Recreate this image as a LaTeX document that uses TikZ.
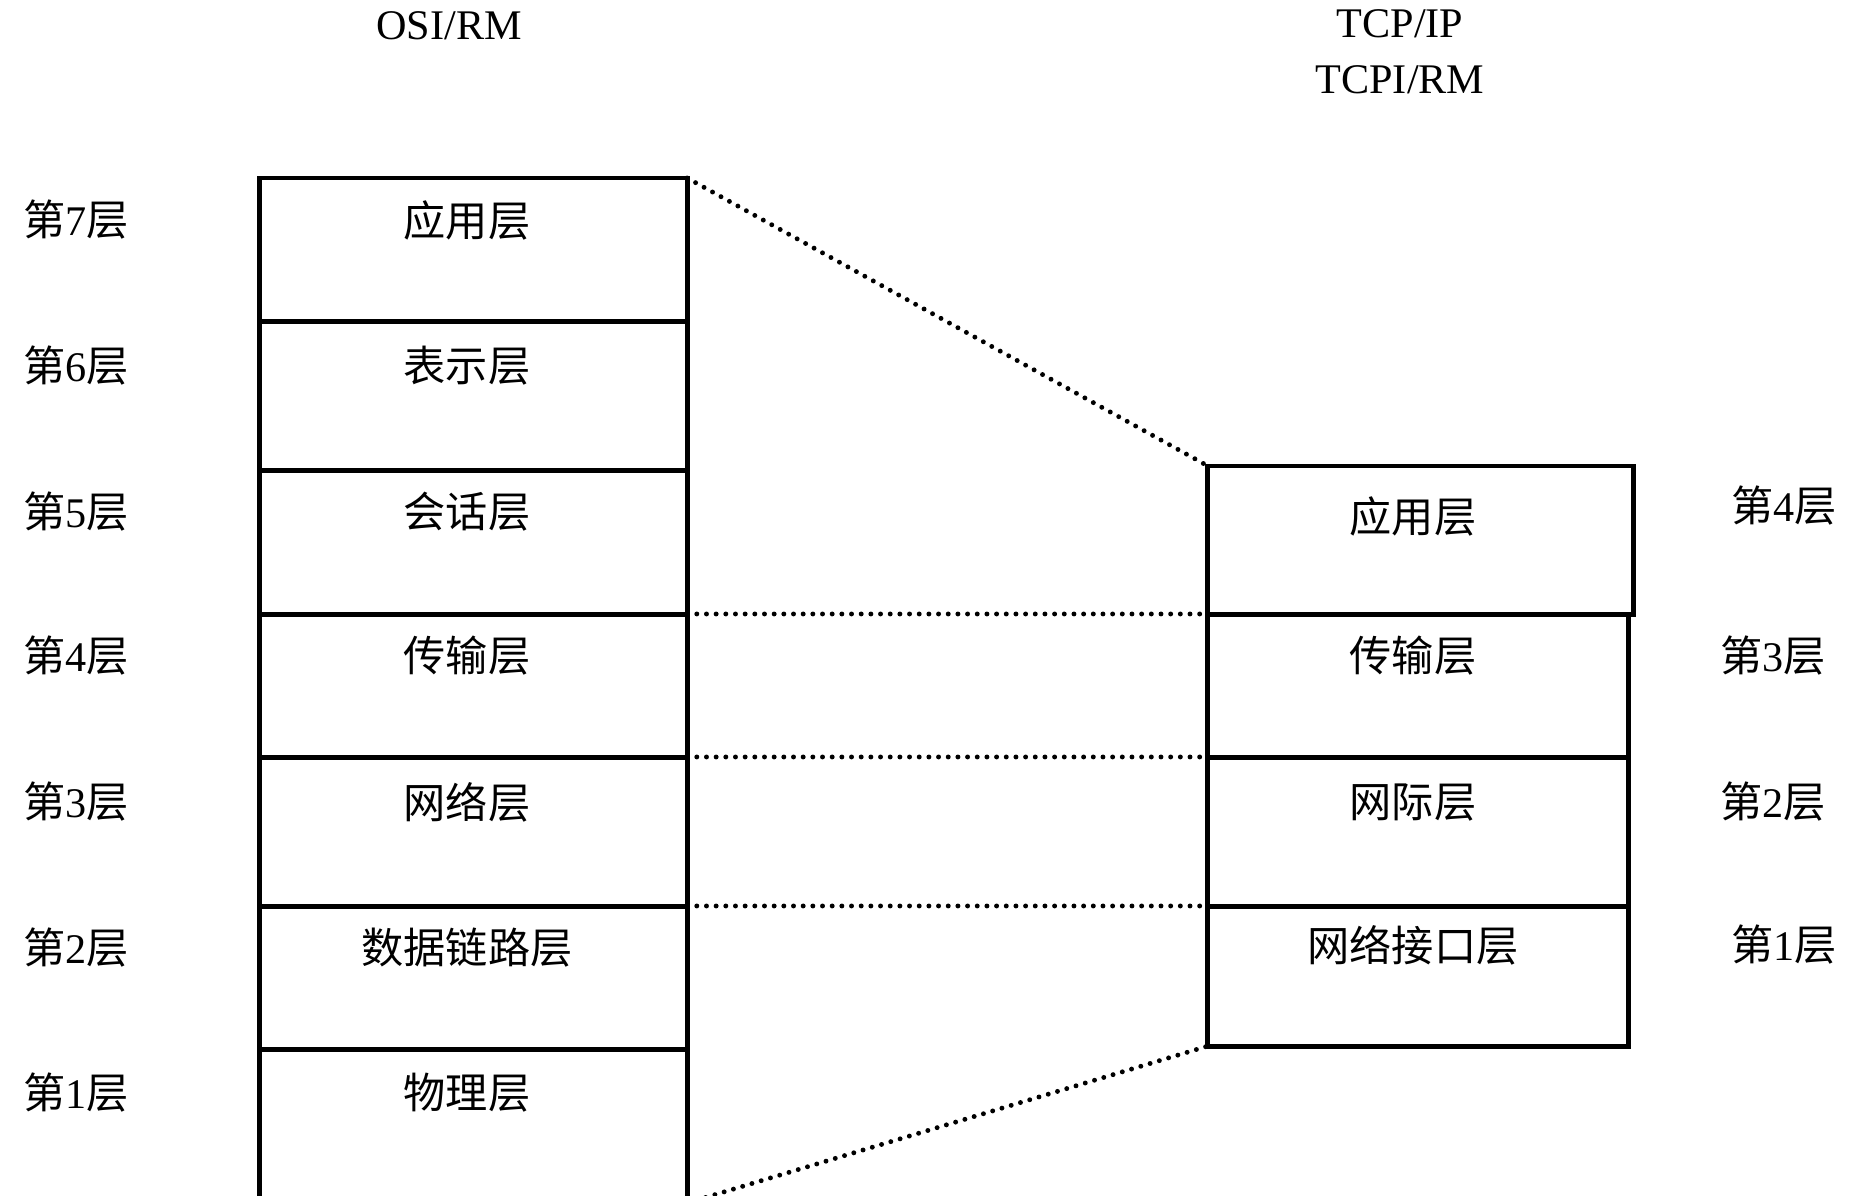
\documentclass[tikz,border=0pt]{standalone}
\usepackage{fontspec}
\setmainfont{Liberation Serif}
\newfontfamily\cjk{Noto Sans CJK SC}
\usepackage{tikz}
\newcommand\ceng[1]{{\cjk 第}#1{\cjk 层}}
\tikzset{
  layer/.style={draw, line width=1.4pt, inner sep=0pt, outer sep=0pt},
  dotline/.style={line width=1.4pt, line cap=round, dash pattern=on 0pt off 2.75pt},
  every node/.append style={font=\fontsize{12}{14}\selectfont}
}

\begin{document}
\begin{tikzpicture}[x=0.01cm, y=-0.01cm]
\useasboundingbox (0,0) rectangle (1853,1196);

% OSI/RM
\node (osi) at (449,26) {OSI/RM};
\node[layer, minimum width=4.27cm, minimum height=1.43cm] (o7) at (473.5,249.5) {};
\node[layer, minimum width=4.27cm, minimum height=1.49cm] (o6) at (473.5,395.5) {};
\node[layer, minimum width=4.27cm, minimum height=1.44cm] (o5) at (473.5,542) {};
\node[layer, minimum width=4.27cm, minimum height=1.43cm] (o4) at (473.5,685.5) {};
\node[layer, minimum width=4.27cm, minimum height=1.49cm] (o3) at (473.5,831.5) {};
\node[layer, minimum width=4.27cm, minimum height=1.43cm] (o2) at (473.5,977.5) {};
\node[layer, minimum width=4.27cm, minimum height=1.54cm] (o1) at (473.5,1126) {};

\node (o7t) at (467,220) {\cjk 应用层};
\node (o6t) at (467,366) {\cjk 表示层};
\node (o5t) at (467,512) {\cjk 会话层};
\node (o4t) at (467,656) {\cjk 传输层};
\node (o3t) at (467,802) {\cjk 网络层};
\node (o2t) at (467,948) {\cjk 数据链路层};
\node (o1t) at (467,1093) {\cjk 物理层};

\node (l7) at (76,220) {\ceng{7}};
\node (l6) at (76,366) {\ceng{6}};
\node (l5) at (76,512) {\ceng{5}};
\node (l4) at (76,656) {\ceng{4}};
\node (l3) at (76,802) {\ceng{3}};
\node (l2) at (76,948) {\ceng{2}};
\node (l1) at (76,1093) {\ceng{1}};

% TCP/IP
\node[align=center] (tcp) at (1400,52) {TCP/IP\\[2pt]TCPI/RM};
\node[layer, minimum width=4.25cm, minimum height=1.48cm] (t4) at (1420.5,540) {};
\node[layer, minimum width=4.20cm, minimum height=1.43cm] (t3) at (1418,685.5) {};
\node[layer, minimum width=4.20cm, minimum height=1.49cm] (t2) at (1418,831.5) {};
\node[layer, minimum width=4.20cm, minimum height=1.40cm] (t1) at (1418,976) {};

\node (t4t) at (1413,516) {\cjk 应用层};
\node (t3t) at (1413,656) {\cjk 传输层};
\node (t2t) at (1413,802) {\cjk 网际层};
\node (t1t) at (1413,945) {\cjk 网络接口层};

\node (r4) at (1784,506) {\ceng{4}};
\node (r3) at (1773,656) {\ceng{3}};
\node (r2) at (1773,802) {\ceng{2}};
\node (r1) at (1784,945) {\ceng{1}};

% mapping
\draw[dotline] (o7.north east) -- (t4.north west);
\draw[dotline] (o4.north east) -- (t3.north west);
\draw[dotline] (o3.north east) -- (t2.north west);
\draw[dotline] (o2.north east) -- (t1.north west);
\draw[dotline] (o1.south east) -- (t1.south west);
\end{tikzpicture}
\end{document}
